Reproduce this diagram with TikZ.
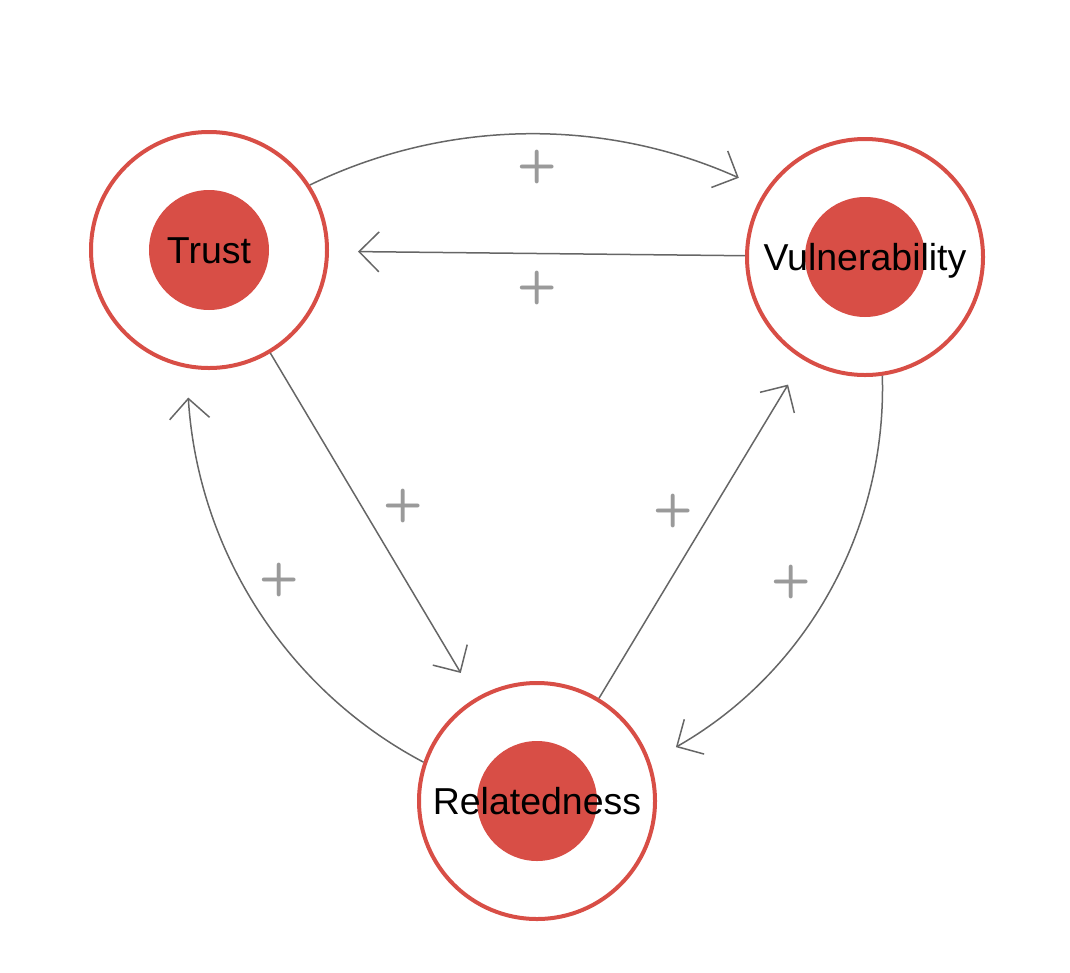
\documentclass[tikz,border=0pt]{standalone}
\usepackage{fontspec}
\setmainfont{Liberation Sans}
\usetikzlibrary{arrows.meta,calc}
\definecolor{rd}{HTML}{D84E46}
\definecolor{ln}{HTML}{666666}
\definecolor{pl}{HTML}{9A9A9A}
\begin{document}
\begin{tikzpicture}[x=1pt,y=-1pt,
  ring/.style={circle,draw=rd,line width=4pt,minimum size=236pt,inner sep=0pt},
  core/.style={circle,fill=rd,minimum size=120pt,inner sep=0pt},
  lbl/.style={font=\fontsize{37.5pt}{40pt}\selectfont,text height=27pt,text depth=0pt,inner sep=0pt},
  link/.style={draw=ln,line width=1.5pt,-{Straight Barb[length=20pt,width=40pt]}},
  plus/.style={font=\fontsize{46pt}{50pt}\selectfont\sffamily\bfseries,text=pl,inner sep=0pt}]
\useasboundingbox (0,0) rectangle (1070,972);
% nodes
\node[ring] (T) at (209,250) {};
\node[ring] (V) at (865,257) {};
\node[ring] (R) at (537,801) {};
\node[core] (Tc) at (T) {};
\node[core] (Vc) at (V) {};
\node[core] (Rc) at (R) {};
\node[lbl] (Tl) at (T) {Trust};
\node[lbl] (Vl) at (V) {Vulnerability};
\node[lbl] (Rl) at (R) {Relatedness};
% connector ends
\coordinate (e1s) at ($(T)+(-32.8:120)$);
\coordinate (e1e) at ($(V)+(212.1:149)$);
\coordinate (e5s) at ($(V)+(81.7:120)$);
\coordinate (e5e) at ($(R)+(-21.2:149)$);
\coordinate (e6s) at ($(R)+(198.9:120)$);
\coordinate (e6e) at ($(T)+(98:149)$);
% connectors
\draw[link] (e1s) .. controls +(-25.9:150) and +(204.1:150) .. (e1e);
\draw[link,shorten >=29pt] (V) -- (T);
\draw[link,shorten >=29pt] (T) -- (R);
\draw[link,shorten >=29pt] (R) -- (V);
\draw[link] (e5s) .. controls +(88.3:152) and +(330.3:152) .. (e5e);
\draw[link] (e6s) .. controls +(207.8:154) and +(86.4:154) .. (e6e);
% labels
\node[plus] (p1) at (537,167) {+};
\node[plus] (p2) at (537,288) {+};
\node[plus] (p3) at (403,506) {+};
\node[plus] (p4) at (673,511) {+};
\node[plus] (p5) at (791,582) {+};
\node[plus] (p6) at (279,580) {+};
\end{tikzpicture}
\end{document}
